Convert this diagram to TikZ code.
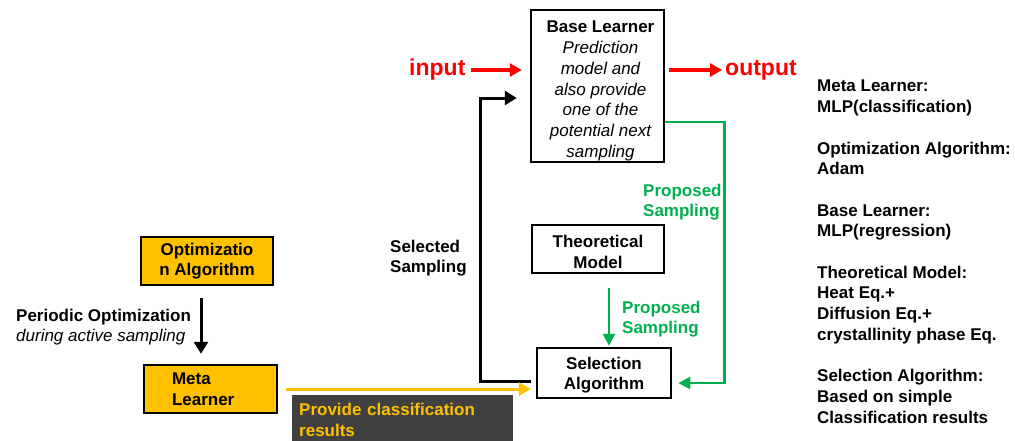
\documentclass[tikz,border=0pt]{standalone}
\usepackage{fontspec}
\setmainfont{Liberation Sans}
\usetikzlibrary{arrows.meta}
\definecolor{orng}{HTML}{FFC000}
\definecolor{grn}{HTML}{00B050}
\definecolor{rd}{HTML}{FF0000}
\definecolor{dk}{HTML}{404040}
\tikzset{
  txt/.style={font=\fontsize{17}{20.7}\selectfont\bfseries, inner sep=0pt},
  wbox/.style={draw=black, line width=2.5pt, fill=white, txt, align=center},
  obox/.style={draw=black, line width=2.5pt, fill=orng, txt, align=center},
  blkarrow/.style={draw=black, line width=3pt, -{Triangle[length=12pt,width=14pt]}},
  redarrow/.style={draw=rd, line width=3.5pt, -{Triangle[length=12pt,width=13pt]}},
  grnarrow/.style={draw=grn, line width=2.5pt, -{Triangle[length=12pt,width=12pt]}},
  yelarrow/.style={draw=orng, line width=3pt, -{Triangle[length=12pt,width=13pt]}},
}
\begin{document}
\begin{tikzpicture}[x=1pt,y=-1pt]
\useasboundingbox (0,0) rectangle (1015,440);

% boxes
\node[wbox, minimum width=133pt, minimum height=152pt] (base) at (597.5,86) {};
\node[txt, align=center] (basetxt) at ([xshift=3pt,yshift=-5pt]base.center)
  {Base Learner\\ \mdseries\itshape Prediction\\ \mdseries\itshape model and\\ \mdseries\itshape also provide\\ \mdseries\itshape one of the\\ \mdseries\itshape potential next\\ \mdseries\itshape sampling};
\node[wbox, minimum width=132pt, minimum height=48pt] (theo) at (598,249) {};
\node[txt, align=center] (theotxt) at ([yshift=-3pt]theo.center) {Theoretical\\Model};
\node[wbox, minimum width=134pt, minimum height=50pt] (sel) at (604,373) {};
\node[txt, align=center] (seltxt) at ([yshift=-2pt]sel.center) {Selection\\Algorithm};
\node[obox, minimum width=132pt, minimum height=48pt] (opt) at (207,261) {Optimizatio\\n Algorithm};
\node[obox, minimum width=133pt, minimum height=48pt, align=left, text width=77pt, inner xsep=28pt] (meta) at (210.5,389) {Meta\\Learner};
\node[fill=dk, txt, text=orng, align=left, anchor=north west, minimum width=221pt, minimum height=50pt, text width=207pt, inner xsep=7pt] (prov) at (292,395) {Provide classification\\results};

% labels
\node[txt, text=rd, font=\fontsize{23}{26}\selectfont\bfseries, anchor=west] (inp) at (409,70) {input};
\node[txt, text=rd, font=\fontsize{23}{26}\selectfont\bfseries, anchor=west] (outp) at (725,70) {output};
\node[txt, text=grn, align=left, anchor=west] (ps1) at (643,202) {Proposed\\Sampling};
\node[txt, text=grn, align=left, anchor=west] (ps2) at (622,319) {Proposed\\Sampling};
\node[txt, align=left, anchor=west] (ss) at (390,258) {Selected\\Sampling};
\node[txt, align=left, anchor=west] (po) at (16,327) {Periodic Optimization\\ \mdseries\itshape during active sampling};
\node[txt, align=left, anchor=north west] (info) at (817,80) {Meta Learner:\\MLP(classification)\\[20.7pt]Optimization Algorithm:\\Adam\\[20.7pt]Base Learner:\\MLP(regression)\\[20.7pt]Theoretical Model:\\Heat Eq.+\\Diffusion Eq.+\\crystallinity phase Eq.\\[20.7pt]Selection Algorithm:\\Based on simple\\Classification results};

% connectors
\draw[redarrow] ([xshift=5pt]inp.east) -- ([xshift=-8pt]base.west |- inp.east);
\draw[redarrow] ([xshift=4pt]base.east |- outp.west) -- ([xshift=-3pt]outp.west);
\draw[blkarrow] ([xshift=-5pt,yshift=-8pt]sel.west) -| ([xshift=-49pt,yshift=-12pt]base.west) -- ([xshift=-13pt,yshift=-12pt]base.west);
\draw[yelarrow] ([xshift=8pt]meta.east) -- ([xshift=-5pt]sel.west |- meta.east);
\draw[grnarrow] ([yshift=-36pt]base.east) -| ([xshift=52pt,yshift=-10pt]sel.east) -- ([xshift=6pt,yshift=-10pt]sel.east);
\draw[grnarrow] ([xshift=11pt,yshift=-14pt]theo.south) -- ([xshift=5pt,yshift=1pt]sel.north);
\draw[blkarrow] ([xshift=-6pt,yshift=-12pt]opt.south) -- ([xshift=-9.5pt,yshift=10pt]meta.north);
\end{tikzpicture}
\end{document}
